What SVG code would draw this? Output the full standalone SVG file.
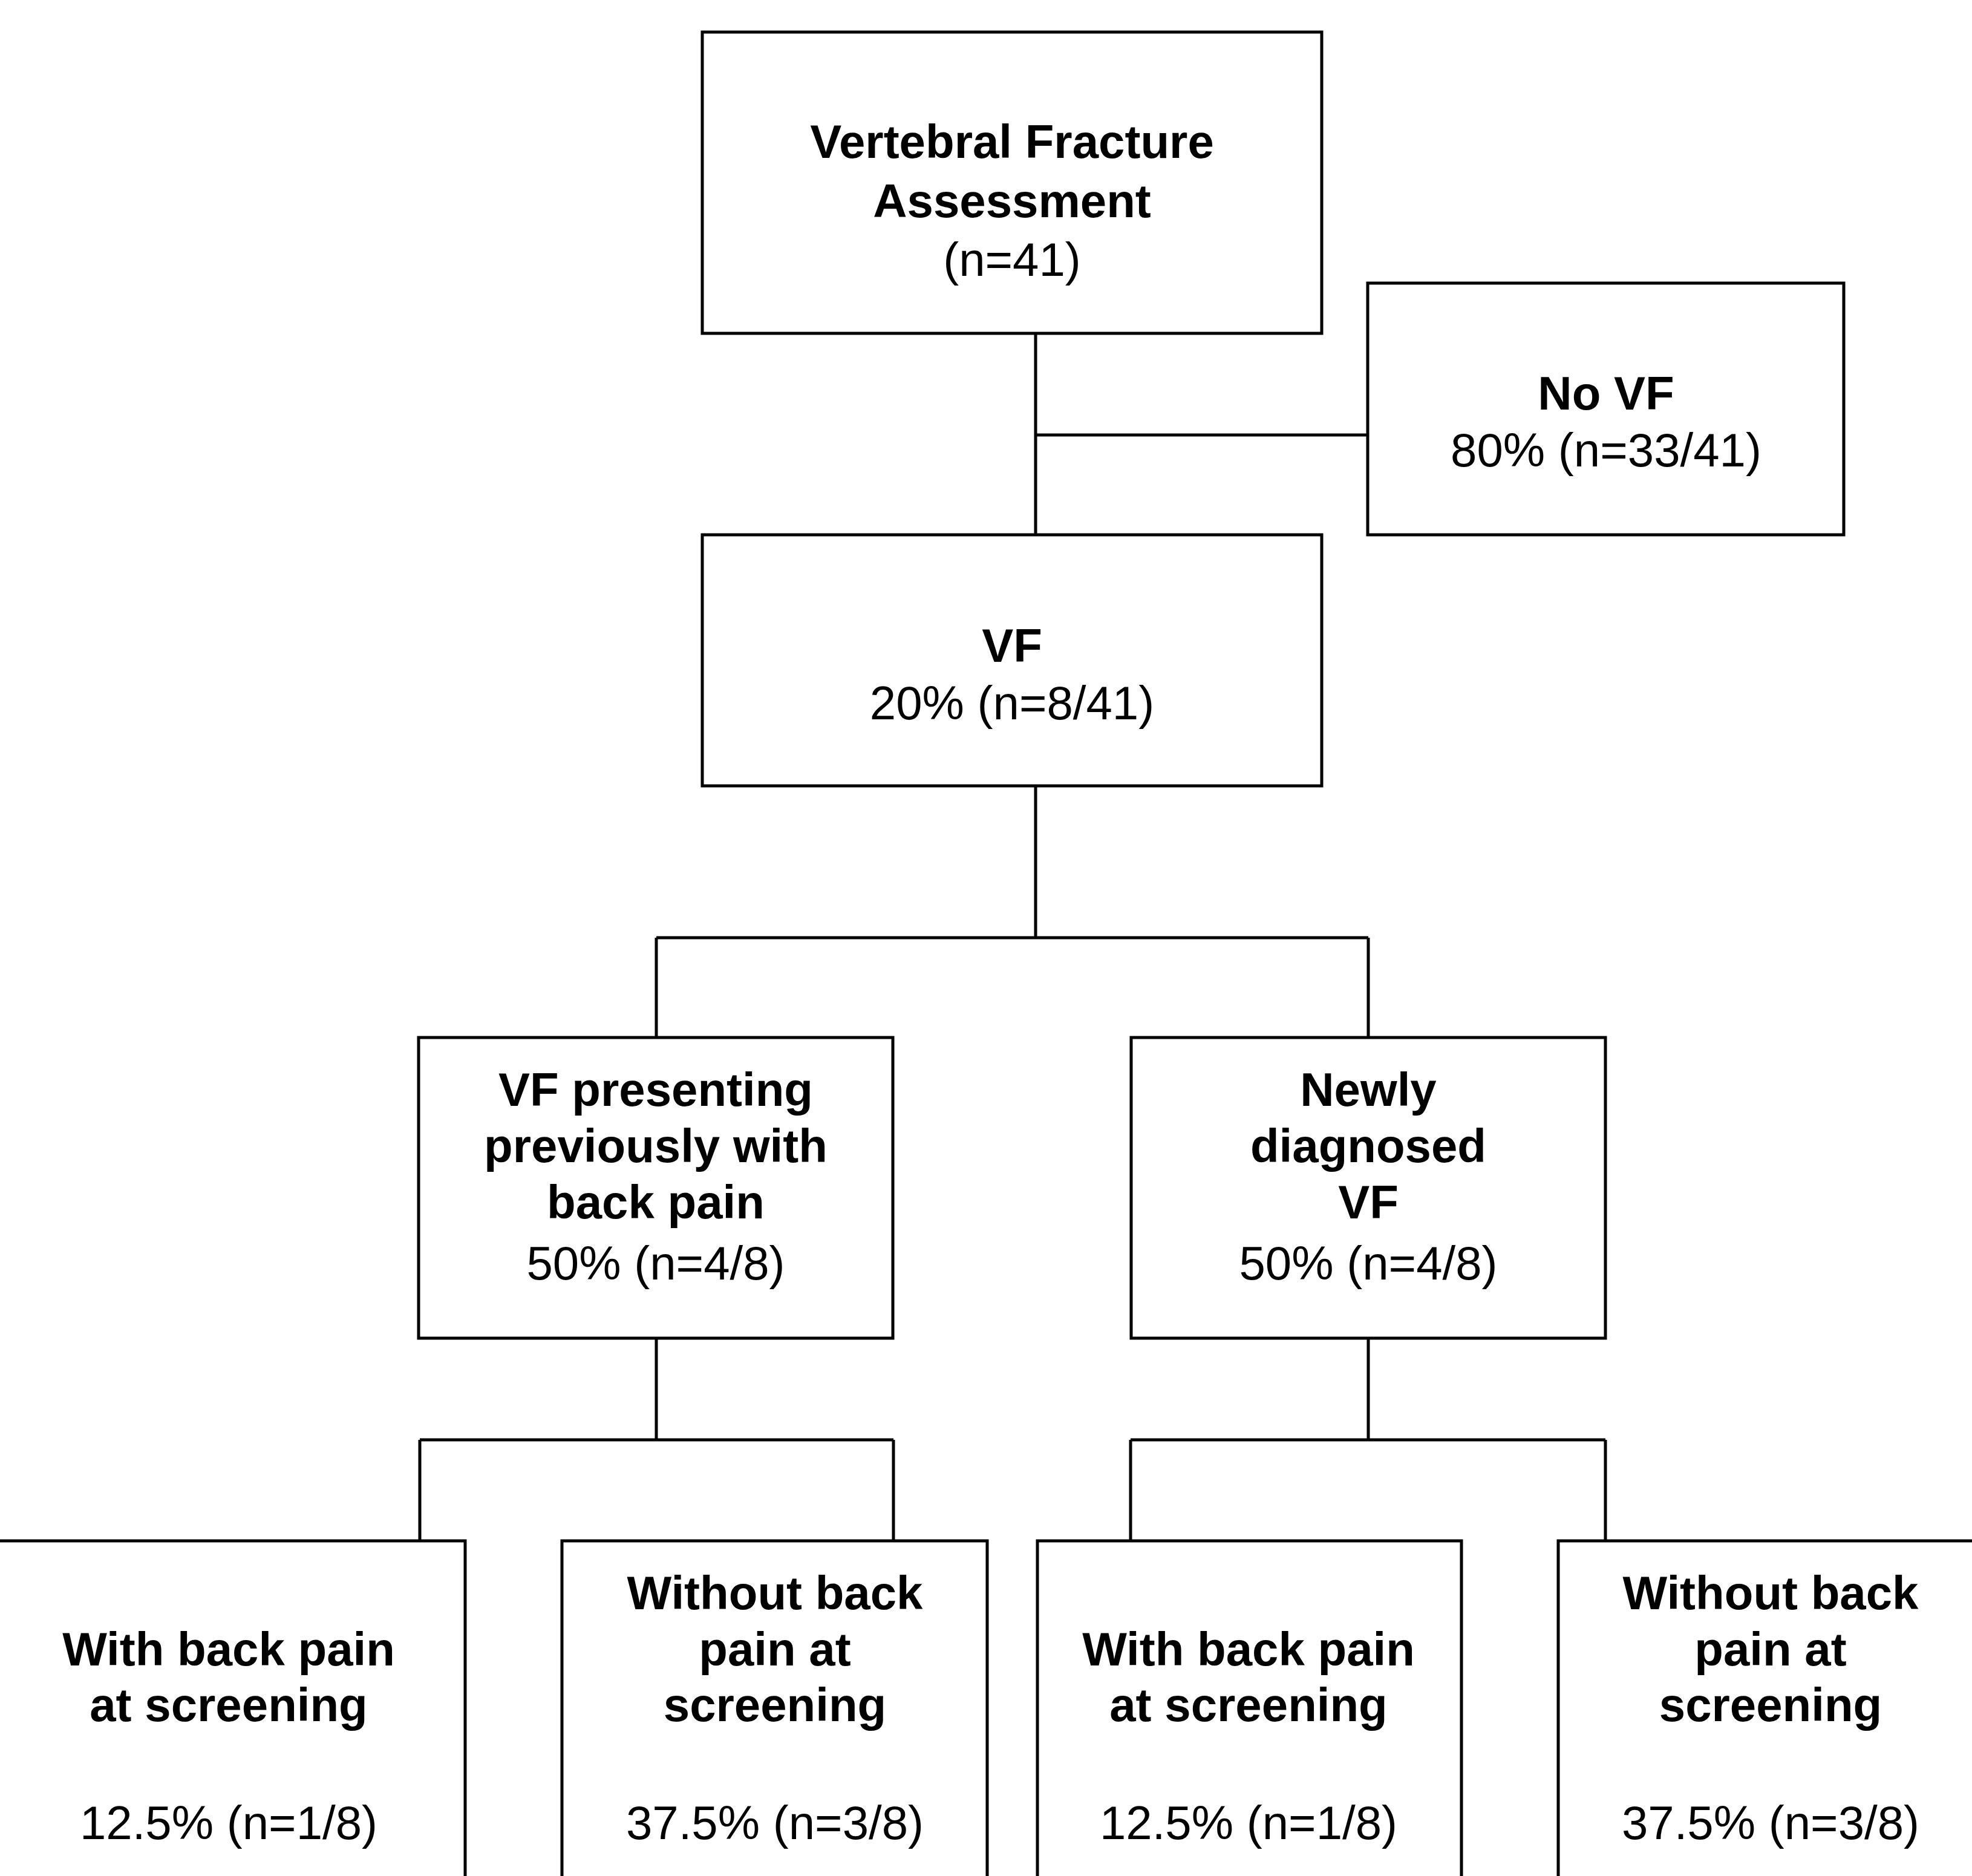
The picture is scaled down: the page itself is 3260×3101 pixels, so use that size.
<svg xmlns="http://www.w3.org/2000/svg" width="3260" height="3101" viewBox="0 0 3260 3101">
<style>
.box{fill:#fff;stroke:#000;stroke-width:5}
.conn{fill:none;stroke:#000;stroke-width:5}
text{font-family:"Liberation Sans",Arial,sans-serif;font-size:78px;fill:#000;text-anchor:middle}
.b{font-weight:bold}
</style>
<rect x="0" y="0" width="3260" height="3101" fill="#fff"/>
<g id="connectors">
<path class="conn" d="M1712 551V884M1712 719H2261"/>
<path class="conn" d="M1712 1299V1550M1085 1550H2262M1085 1550V1715M2262 1550V1715"/>
<path class="conn" d="M1085 2212V2380M694 2380H1477M694 2380V2547M1477 2380V2547"/>
<path class="conn" d="M2262 2212V2380M1869 2380H2654M1869 2380V2547M2654 2380V2547"/>
</g>
<g id="vfa">
<rect class="box" x="1161" y="53" width="1024" height="498"/>
<text class="b" x="1673" y="261">Vertebral Fracture</text>
<text class="b" x="1673" y="359">Assessment</text>
<text x="1673" y="456">(n=41)</text>
</g>
<g id="novf">
<rect class="box" x="2261" y="468" width="787" height="416"/>
<text class="b" x="2655" y="677">No VF</text>
<text x="2655" y="771">80% (n=33/41)</text>
</g>
<g id="vf">
<rect class="box" x="1161" y="884" width="1024" height="415"/>
<text class="b" x="1673" y="1094">VF</text>
<text x="1673" y="1189">20% (n=8/41)</text>
</g>
<g id="prev">
<rect class="box" x="692" y="1715" width="784" height="497"/>
<text class="b" x="1084" y="1828">VF presenting</text>
<text class="b" x="1084" y="1921">previously with</text>
<text class="b" x="1084" y="2014">back pain</text>
<text x="1084" y="2115">50% (n=4/8)</text>
</g>
<g id="newly">
<rect class="box" x="1870" y="1715" width="784" height="497"/>
<text class="b" x="2262" y="1828">Newly</text>
<text class="b" x="2262" y="1921">diagnosed</text>
<text class="b" x="2262" y="2014">VF</text>
<text x="2262" y="2115">50% (n=4/8)</text>
</g>
<g id="prev-with">
<rect class="box" x="-20" y="2547" width="789" height="700"/>
<text class="b" x="378" y="2753">With back pain</text>
<text class="b" x="378" y="2845">at screening</text>
<text x="378" y="3040">12.5% (n=1/8)</text>
</g>
<g id="prev-without">
<rect class="box" x="929" y="2547" width="703" height="700"/>
<text class="b" x="1281" y="2660">Without back</text>
<text class="b" x="1281" y="2753">pain at</text>
<text class="b" x="1281" y="2845">screening</text>
<text x="1281" y="3040">37.5% (n=3/8)</text>
</g>
<g id="new-with">
<rect class="box" x="1715" y="2547" width="701" height="700"/>
<text class="b" x="2064" y="2753">With back pain</text>
<text class="b" x="2064" y="2845">at screening</text>
<text x="2064" y="3040">12.5% (n=1/8)</text>
</g>
<g id="new-without">
<rect class="box" x="2576" y="2547" width="720" height="700"/>
<text class="b" x="2927" y="2660">Without back</text>
<text class="b" x="2927" y="2753">pain at</text>
<text class="b" x="2927" y="2845">screening</text>
<text x="2927" y="3040">37.5% (n=3/8)</text>
</g>
</svg>
